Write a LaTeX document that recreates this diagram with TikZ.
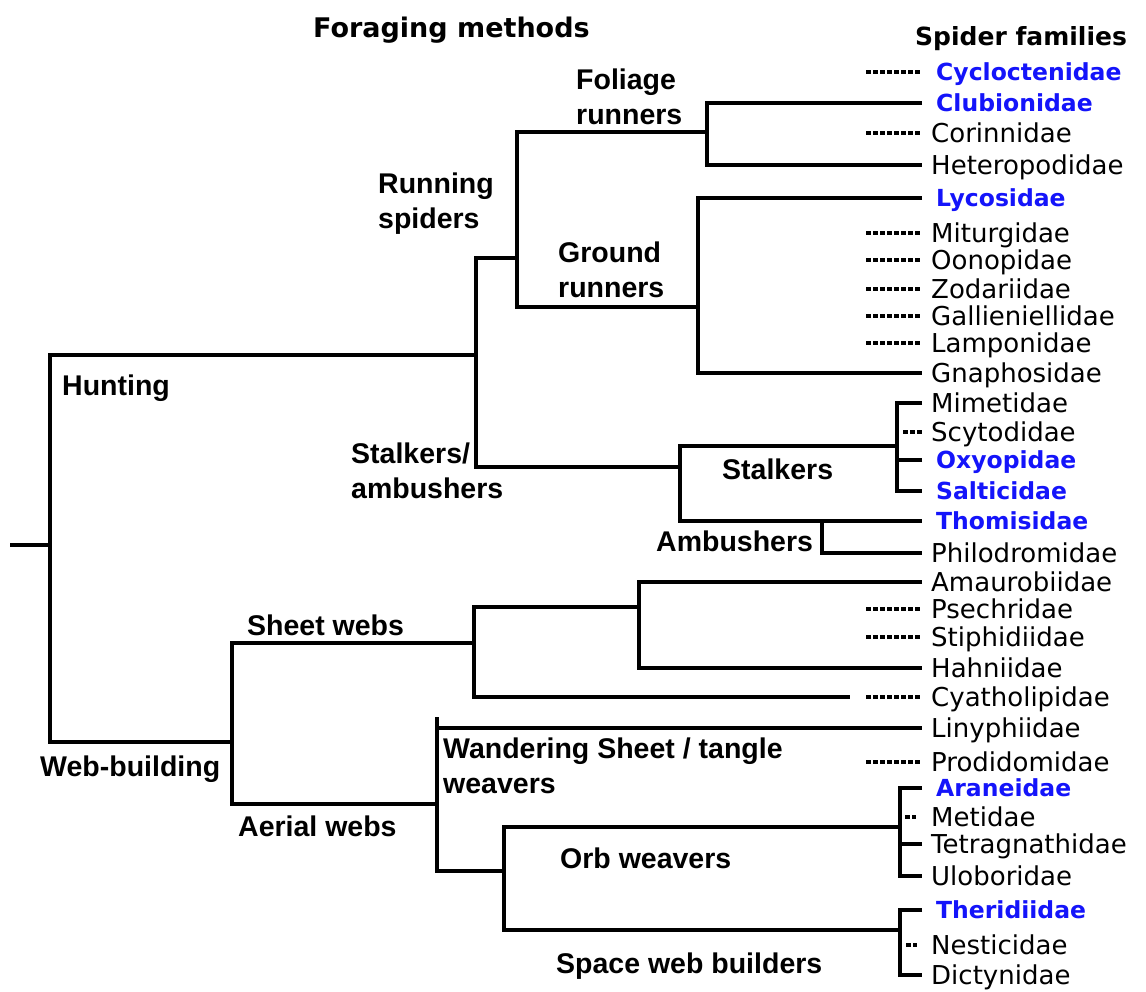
\documentclass[tikz,border=0pt]{standalone}
\usepackage{fontspec}
\newfontfamily\lblfont{Liberation Sans}
\newfontfamily\famfont{DejaVu Sans}
\definecolor{famblue}{RGB}{20,20,250}
\tikzset{
  br/.style={line width=4.2pt, line join=miter},
  dotl/.style={line width=4pt, dash pattern=on 4.5pt off 2.5pt},
  fam/.style={anchor=west, inner xsep=9pt, inner ysep=0pt, text height=19pt, text depth=0pt,
    font=\famfont\fontsize{26}{30}\selectfont},
  bfam/.style={fam, inner xsep=14pt, text=famblue, text height=17.5pt,
    font=\famfont\bfseries\fontsize{23.5}{28}\selectfont},
  lbl/.style={anchor=west, inner sep=0pt, text height=20.4pt, text depth=0pt,
    font=\lblfont\bfseries\fontsize{28.5}{34.5}\selectfont},
  lbltwo/.style={anchor=north west, inner sep=0pt, align=left,
    font=\lblfont\bfseries\fontsize{28.5}{34.5}\selectfont},
  ttl/.style={anchor=west, inner sep=0pt, text height=19pt, text depth=0pt}
}
\begin{document}
\begin{tikzpicture}[x=1pt,y=-1pt]
\useasboundingbox[fill=white] (0,0) rectangle (1146,991);

% titles
\node[ttl, font=\famfont\bfseries\fontsize{27}{32}\selectfont] (tforage) at (313,28) {Foraging methods};
\node[ttl, font=\famfont\bfseries\fontsize{25}{30}\selectfont] (tfam) at (915,36) {Spider families};

% family nodes
\node[bfam] (cyc) at (922,72)  {Cycloctenidae};
\node[bfam] (clu) at (922,103) {Clubionidae};
\node[fam]  (cor) at (922,133) {Corinnidae};
\node[fam]  (het) at (922,165) {Heteropodidae};
\node[bfam] (lyc) at (922,198) {Lycosidae};
\node[fam]  (mit) at (922,233) {Miturgidae};
\node[fam]  (oon) at (922,260) {Oonopidae};
\node[fam]  (zod) at (922,289) {Zodariidae};
\node[fam]  (gal) at (922,316) {Gallieniellidae};
\node[fam]  (lam) at (922,343) {Lamponidae};
\node[fam]  (gna) at (922,373) {Gnaphosidae};
\node[fam]  (mim) at (922,403) {Mimetidae};
\node[fam]  (scy) at (922,432) {Scytodidae};
\node[bfam] (oxy) at (922,460) {Oxyopidae};
\node[bfam] (sal) at (922,491) {Salticidae};
\node[bfam] (tho) at (922,521) {Thomisidae};
\node[fam]  (phi) at (922,553) {Philodromidae};
\node[fam]  (ama) at (922,582) {Amaurobiidae};
\node[fam]  (pse) at (922,609) {Psechridae};
\node[fam]  (sti) at (922,637) {Stiphidiidae};
\node[fam]  (hah) at (922,668) {Hahniidae};
\node[fam]  (cya) at (922,697) {Cyatholipidae};
\node[fam]  (lin) at (922,728) {Linyphiidae};
\node[fam]  (pro) at (922,762) {Prodidomidae};
\node[bfam] (ara) at (922,788) {Araneidae};
\node[fam]  (met) at (922,817) {Metidae};
\node[fam]  (tet) at (922,844) {Tetragnathidae};
\node[fam]  (ulo) at (922,876) {Uloboridae};
\node[bfam] (the) at (922,910) {Theridiidae};
\node[fam]  (nes) at (922,945) {Nesticidae};
\node[fam]  (dic) at (922,975) {Dictynidae};

% labels
\node[lbltwo] (lfol) at (576,69) {Foliage\\runners};
\node[lbltwo] (lrun) at (378,173) {Running\\spiders};
\node[lbltwo] (lgnd) at (558,242) {Ground\\runners};
\node[lbl] (lhunt) at (62,385) {Hunting};
\node[lbltwo] (lstam) at (351,443) {Stalkers/\\ambushers};
\node[lbl] (lstk) at (722,469) {Stalkers};
\node[lbl] (lamb) at (656,541) {Ambushers};
\node[lbl] (lsheet) at (247,625) {Sheet webs};
\node[lbl] (lweb) at (40,766) {Web-building};
\node[lbl] (laer) at (238,826) {Aerial webs};
\node[lbltwo] (lwand) at (443,738) {Wandering Sheet / tangle\\weavers};
\node[lbl] (lorb) at (560,858) {Orb weavers};
\node[lbl] (lspc) at (556,963) {Space web builders};

% internal branch points
\coordinate (r0) at (10,545);
\coordinate (r) at (50,545);
\coordinate (hunt) at (476,355);
\coordinate (web) at (232,742);
\coordinate (run) at (517,258);
\coordinate (stam) at (680,467);
\coordinate (fol) at (707,132);
\coordinate (gnd) at (698,307);
\coordinate (stk) at (897,446);
\coordinate (amb) at (822,521);
\coordinate (sheet) at (474,643);
\coordinate (sh1) at (639,607);
\coordinate (cyaend) at (850,697);
\coordinate (aer) at (437,804);
\coordinate (aertop) at (437,717);
\coordinate (orbsp) at (504,871);
\coordinate (orb) at (900,827);
\coordinate (spc) at (900,930);

% tree
\draw[br] (r0) -- (r);
\draw[br] (hunt) -| (r) |- (web);
\draw[br] (run) -| (hunt) |- (stam);
\draw[br] (fol) -| (run) |- (gnd);
\draw[br] (clu.west) -| (fol) |- (het.west);
\draw[br] (lyc.west) -| (gnd) |- (gna.west);
\draw[br] (stk) -| (stam) |- (tho.west);
\draw[br] (amb) |- (phi.west);
\draw[br] (mim.west) -| (stk) |- (sal.west);
\draw[br] (oxy.west) -- ([xshift=-23pt]oxy.west);
\draw[br] (sheet) -| (web) |- (aer);
\draw[br] (sh1) -| (sheet) |- (cyaend);
\draw[br] (ama.west) -| (sh1) |- (hah.west);
\draw[br] (aertop) -- (aertop |- orbsp) -- (orbsp);
\draw[br] (aertop |- lin.west) -- (lin.west);
\draw[br] (orb) -| (orbsp) |- (spc);
\draw[br] (ara.west) -| (orb) |- (ulo.west);
\draw[br] (tet.west) -- ([xshift=-22pt]tet.west);
\draw[br] (the.west) -| (spc) |- (dic.west);

% dotted connectors
\foreach \n in {cyc,cor,mit,oon,zod,gal,lam,pse,sti,cya,pro}
  \draw[dotl] ([xshift=-56pt]\n.west) -- (\n.west);
\draw[dotl] ([xshift=-19pt]scy.west) -- (scy.west);
\draw[dotl] ([xshift=-17pt]met.west) -- ([xshift=-6pt]met.west);
\draw[dotl] ([xshift=-16pt]nes.west) -- ([xshift=-5pt]nes.west);
\end{tikzpicture}
\end{document}
